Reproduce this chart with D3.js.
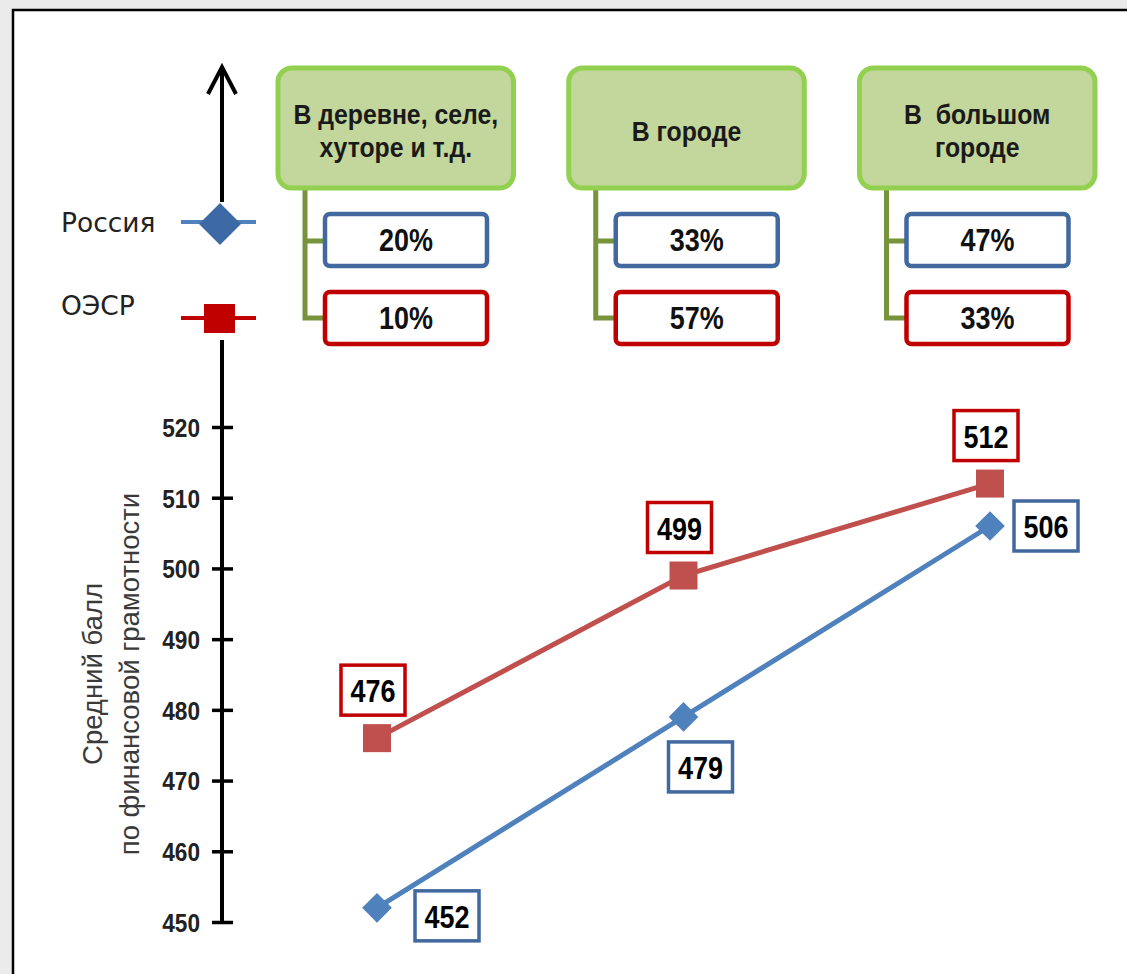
<!DOCTYPE html>
<html>
<head>
<meta charset="utf-8">
<script src="https://cdn.jsdelivr.net/npm/d3@7"></script>
<style>
  body { margin: 0; background: #ebebeb; }
  svg { display: block; }
  .narrow { font-family: "Liberation Sans", Arial, sans-serif; font-weight: bold; }
</style>
</head>
<body>
<script>
// Средний балл по финансовой грамотности: Россия и ОЭСР

const categories = ['village', 'town', 'city']
const categoryLines = [['В деревне, селе,', 'хуторе и т.д.'], ['В городе'], ['В  большом', 'городе']]
const seriesNames = ['Россия', 'ОЭСР']
const russiaShare = [20, 33, 47]
const oecdShare = [10, 57, 33]
const russiaScore = [452, 479, 506]
const oecdScore = [476, 499, 512]
const yTicks = [450, 460, 470, 480, 490, 500, 510, 520]
const axisTitle = ['Средний балл', 'по финансовой грамотности']

const W = 1127
const H = 974
const blue = '#4f81bd'
const red = '#c0504d'
const darkRed = '#c00000'
const blueBorder = '#41699f'
const squeeze = 0.87 // шрифт типа Arial Narrow

const svg = d3.select('body').append('svg')
  .attr('width', W)
  .attr('height', H)

// белая подложка с рамкой слева и сверху
svg.append('rect').attr('x', 13).attr('y', 10).attr('width', W).attr('height', H).attr('fill', '#fff')
svg.append('path').attr('d', 'M13,' + H + 'V10H' + W).attr('fill', 'none').attr('stroke', '#000').attr('stroke-width', 2.5)

const x = d3.scalePoint().domain(categories).range([377, 990])
const y = d3.scaleLinear().domain([450, 520]).range([922, 427])
const axisX = 222

// ось Y
const yAxis = d3.axisLeft(y).tickValues(yTicks).tickSize(10)
const gAxis = svg.append('g')
  .attr('transform', 'translate(' + axisX + ',0)')
  .call(yAxis)
gAxis.select('.domain').remove()
gAxis.selectAll('.tick line').attr('x2', 11).attr('x1', -10).attr('stroke', '#000').attr('stroke-width', 3.5)
gAxis.selectAll('.tick text')
  .attr('class', 'narrow')
  .attr('x', 0)
  .attr('transform', 'translate(-22,0) scale(' + squeeze + ',1)')
  .attr('font-size', 26)
  .attr('fill', '#222')
  .attr('dy', '0.36em')

svg.append('line')
  .attr('x1', axisX).attr('x2', axisX)
  .attr('y1', y(520) - 87).attr('y2', y(450))
  .attr('stroke', '#000').attr('stroke-width', 4)

// стрелка сверху
const arrowTop = 67
svg.append('line')
  .attr('x1', axisX).attr('x2', axisX)
  .attr('y1', arrowTop + 2).attr('y2', 202)
  .attr('stroke', '#000').attr('stroke-width', 4)
svg.append('path')
  .attr('d', 'M' + (axisX - 14) + ',' + (arrowTop + 27) + 'L' + axisX + ',' + arrowTop + 'L' + (axisX + 14) + ',' + (arrowTop + 27))
  .attr('fill', 'none').attr('stroke', '#000').attr('stroke-width', 4).attr('stroke-linejoin', 'miter')

// подпись оси
const title = svg.append('text')
  .attr('transform', 'translate(0,674) rotate(-90)')
  .attr('text-anchor', 'middle')
  .attr('font-family', '"Liberation Sans", Arial, sans-serif')
  .attr('font-size', 27.5)
  .attr('fill', '#3a3a3a')
title.selectAll('tspan').data(axisTitle).enter().append('tspan')
  .attr('x', 0)
  .attr('y', (d, i) => 102 + i * 37)
  .text(d => d)

// легенда
const legendY = [222, 318]
const legend = svg.selectAll('.legend').data(seriesNames).enter().append('g')
  .attr('class', 'legend')
  .attr('transform', (d, i) => 'translate(0,' + legendY[i] + ')')
legend.append('text')
  .attr('x', 61)
  .attr('y', 10)
  .attr('font-family', '"DejaVu Sans", Verdana, sans-serif')
  .attr('font-size', 26.5)
  .attr('fill', '#222')
  .text(d => d)
  .attr('dy', (d, i) => i ? -13 : 0)
legend.append('line')
  .attr('x1', 181).attr('x2', 256)
  .attr('stroke', (d, i) => i ? darkRed : blue)
  .attr('stroke-width', 4)
legend.filter((d, i) => i === 0).append('path')
  .attr('d', 'M' + (axisX - 2) + ',-19L' + (axisX + 19) + ',2L' + (axisX - 2) + ',23L' + (axisX - 23) + ',2Z')
  .attr('fill', '#3d6aa5')
legend.filter((d, i) => i === 1).append('rect')
  .attr('x', axisX - 18).attr('y', -14).attr('width', 31).attr('height', 29)
  .attr('fill', darkRed)

// зелёные блоки с долями
const boxX = d3.scaleBand().domain(categories).range([278, 1095]).paddingInner(0.19)
const boxTop = 68
const boxH = 120
const cat = svg.selectAll('.cat').data(categories).enter().append('g')
  .attr('class', 'cat')
  .attr('transform', d => 'translate(' + boxX(d) + ',0)')

// соединительные линии
cat.append('path')
  .attr('d', 'M27,' + boxTop + 'V318H50M27,241H50')
  .attr('fill', 'none')
  .attr('stroke', '#77933c')
  .attr('stroke-width', 5)

cat.append('rect')
  .attr('x', 0).attr('y', boxTop)
  .attr('width', boxX.bandwidth()).attr('height', boxH)
  .attr('rx', 14)
  .attr('fill', '#c3d69b')
  .attr('stroke', '#92d050')
  .attr('stroke-width', 5)

cat.each(function (d, i) {
  const lines = categoryLines[i]
  const t = d3.select(this).append('text')
    .attr('class', 'narrow')
    .attr('transform', 'translate(' + boxX.bandwidth() / 2 + ',0) scale(' + squeeze + ',1)')
    .attr('text-anchor', 'middle')
    .attr('font-size', 28.5)
    .attr('fill', '#1a1a1a')
    .style('white-space', 'pre')
  const base = lines.length === 1 ? 141 : 124
  t.selectAll('tspan').data(lines).enter().append('tspan')
    .attr('x', 0)
    .attr('y', (l, j) => base + j * 33)
    .text(l => l)
})

const shareRows = [
  { values: russiaShare, y: 214, color: blueBorder },
  { values: oecdShare, y: 292, color: darkRed }
]
shareRows.forEach(row => {
  const g = cat.append('g').attr('transform', 'translate(47,' + row.y + ')')
  g.append('rect')
    .attr('width', 162).attr('height', 52).attr('rx', 5)
    .attr('fill', '#fff')
    .attr('stroke', row.color)
    .attr('stroke-width', 4.5)
  g.append('text')
    .attr('class', 'narrow')
    .attr('transform', 'translate(81,37) scale(' + squeeze + ',1)')
    .attr('text-anchor', 'middle')
    .attr('font-size', 31)
    .attr('fill', '#111')
    .text((d, i) => row.values[i] + '%')
})

// линии
const line = d3.line()
  .x((d, i) => x(categories[i]))
  .y(d => y(d))

svg.append('path').datum(oecdScore)
  .attr('d', line)
  .attr('fill', 'none').attr('stroke', red).attr('stroke-width', 5)
svg.append('path').datum(russiaScore)
  .attr('d', line)
  .attr('fill', 'none').attr('stroke', blue).attr('stroke-width', 5)

// маркеры
svg.selectAll('.sq').data(oecdScore).enter().append('rect')
  .attr('x', (d, i) => x(categories[i]) - 14)
  .attr('y', d => y(d) - 14)
  .attr('width', 28).attr('height', 28)
  .attr('fill', red)
svg.selectAll('.dm').data(russiaScore).enter().append('path')
  .attr('d', d3.symbol(d3.symbolDiamond2, 560))
  .attr('transform', (d, i) => 'translate(' + x(categories[i]) + ',' + y(d) + ')')
  .attr('fill', blue)

// подписи значений
const labelW = 64
const labelH = 50
function drawLabel (cx, cy, text, color) {
  const g = svg.append('g').attr('transform', 'translate(' + (cx - labelW / 2) + ',' + (cy - labelH / 2) + ')')
  g.append('rect')
    .attr('width', labelW).attr('height', labelH)
    .attr('fill', '#fff')
    .attr('stroke', color)
    .attr('stroke-width', 3.5)
  g.append('text')
    .attr('class', 'narrow')
    .attr('transform', 'translate(' + labelW / 2 + ',37) scale(' + squeeze + ',1)')
    .attr('text-anchor', 'middle')
    .attr('font-size', 31)
    .attr('fill', '#000')
    .text(text)
}
oecdScore.forEach((v, i) => {
  drawLabel(x(categories[i]) - 4, y(v) - 48, v, darkRed)
})
const russiaLabelSide = ['right', 'below', 'right']
russiaScore.forEach((v, i) => {
  const cx = x(categories[i])
  const cy = y(v)
  if (russiaLabelSide[i] === 'below') drawLabel(cx + 17, cy + 50, v, blueBorder)
  else drawLabel(cx + (i === 0 ? 70 : 56), cy + (i === 0 ? 8 : 0), v, blueBorder)
})
</script>
</body>
</html>
